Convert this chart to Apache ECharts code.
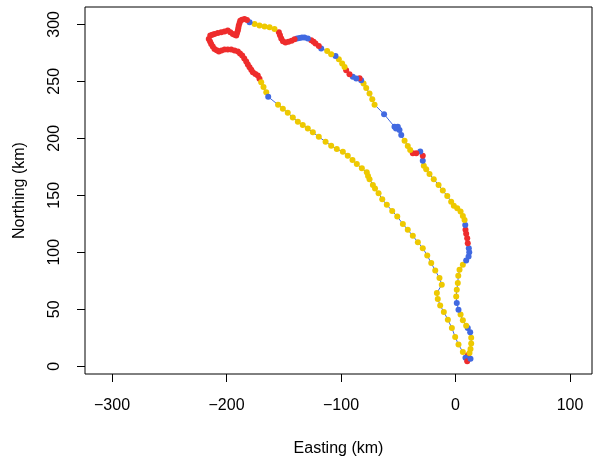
<!DOCTYPE html>
<html>
<head>
<meta charset="utf-8">
<script src="https://cdn.jsdelivr.net/npm/echarts@6/dist/echarts.min.js"></script>
<style>html,body{margin:0;padding:0;background:#fff}#c{width:593px;height:456px}</style>
</head>
<body>
<div id="c"></div>
<script>
// Track positions (km)
const easting = [
 10.7, 8.7, 10.2, 13.1,
 12.2, 13.1, 13.7, 13.7, 12.8, 10.7, 9.3, 6.4, 4.4, 2.6, 1.1, 0.6, 1.1, 2.0, 2.4, 3.5, 6.4,
 9.3, 11.4, 12.0, 11.6, 10.7, 10.2, 9.3, 8.7, 8.5, 7.9, 6.4, 4.4, 1.5, -1.5, -3.8, -7.2,
 -11.1, -14.8, -19.0, -22.7, -25.6, -27.7, -28.6, -28.6, -30.8, -34.3, -37.3, -39.6, -41.7, -44.5,
 -47.4, -48.9, -50.4, -52.0, -53.3, -62.4, -70.7, -72.7, -75.1, -78.0, -80.3, -82.4, -83.8, -86.7,
 -89.7, -92.6, -95.5, -96.9, -99.0, -101.9, -104.8, -108.6, -112.1, -117.3, -119.4, -122.3, -124.0,
 -126.0, -129.0, -131.9, -134.1, -136.2, -138.4, -140.6, -143.2, -145.9, -148.5, -150.7, -152.2,
 -153.3, -154.3, -158.1, -162.4, -166.8, -171.2, -175.5, -179.9,
 -182.1, -184.3, -186.5, -188.0, -188.6, -189.3, -189.7, -190.1, -190.8, -191.5, -193.0, -194.5,
 -196.7, -198.9, -201.7, -204.6, -207.6, -210.5, -212.4, -214.2, -215.5, -214.4, -213.4, -212.0,
 -210.5, -208.6, -206.7, -204.4, -201.7, -198.9, -195.9, -193.0, -190.1, -188.2, -186.3, -184.5,
 -182.8, -181.4, -179.9, -178.4, -177.0, -174.8, -172.7, -171.2,
 -169.7, -167.7, -165.3, -163.6,
 -155.0, -150.8, -146.5, -142.1, -137.7, -133.4, -129.0, -124.6, -119.4, -113.5, -108.6, -103.7,
 -98.4, -94.1, -90.0, -86.2, -81.8, -77.5, -76.4, -75.1, -72.2, -70.3, -67.2, -64.0, -60.0, -55.3,
 -50.9, -46.0, -41.7, -37.3, -32.9, -28.6, -24.7, -21.2, -17.7, -14.0, -12.0, -16.3, -15.5, -13.4,
 -10.2, -6.7, -3.2, -0.3, 2.6, 6.4
];
const northing = [
 9.6, 7.4, 4.4, 6.5,
 11.7, 15.2, 19.9, 24.9, 29.8, 33.6, 35.6, 40.3, 45.3, 49.6, 55.5, 61.3, 67.1, 73.0, 79.4, 84.7, 89.0,
 92.8, 96.3, 100.0, 103.6, 108.0, 112.4, 116.2, 119.7, 124.0, 128.4, 131.9, 135.7, 138.7, 140.9, 144.4, 149.4,
 154.1, 159.1, 164.1, 168.7, 172.8, 176.0, 180.3, 184.7, 188.4, 186.8, 186.8, 189.7, 193.2, 197.8,
 202.8, 207.2, 210.1, 208.5, 210.1, 221.2, 229.5, 234.3, 239.3, 244.2, 248.1, 251.0, 252.7, 252.5,
 253.9, 256.2, 259.7, 262.6, 265.6, 269.4, 272.3, 273.7, 276.6, 278.7, 281.0, 283.1, 284.7,
 286.0, 287.5, 288.4, 288.4, 288.0, 287.5, 286.9, 285.6, 284.7, 284.0, 285.1, 287.5,
 290.4, 293.0, 295.9, 297.4, 298.0, 298.9, 300.3, 301.8,
 303.9, 304.6, 304.1, 303.2, 301.1, 298.9, 296.7, 294.5, 292.3, 290.1, 290.8, 291.5,
 293.0, 294.5, 293.8, 293.0, 292.3, 291.5, 290.8, 290.1, 287.1, 284.9, 282.8, 280.6,
 278.4, 277.2, 276.1, 277.0, 277.9, 277.9, 277.9, 277.0, 276.1, 274.4, 272.6, 270.0,
 267.4, 264.8, 262.4, 260.2, 258.0, 256.5, 255.1, 252.3,
 249.2, 244.9, 240.5, 236.4,
 229.5, 226.0, 222.4, 218.3, 214.5, 211.6, 208.7, 205.2, 201.3, 197.0, 193.5, 190.6,
 188.2, 184.7, 180.9, 177.4, 173.7, 170.2, 166.9, 164.1, 159.1, 156.0, 151.8, 146.5, 141.6, 136.3,
 131.3, 124.9, 119.7, 114.4, 108.9, 103.6, 97.2, 90.5, 84.0, 77.4, 71.5, 64.3, 59.0, 53.4,
 47.6, 40.9, 33.6, 25.7, 19.0, 12.6
];
// Behaviour state of each fix: Y = yellow, R = red, B = blue
const state = [
 'R','B','R','B',
 'Y','Y','Y','Y','B','B','Y','Y','Y','B','B','Y','Y','Y','Y','Y','Y',
 'B','B','B','B','R','R','R','R','B','Y','Y','Y','Y','Y','Y','Y',
 'Y','Y','Y','Y','Y','Y','B','R','B','R','R','Y','Y','Y',
 'B','B','B','B','B','B','Y','Y','Y','Y','Y','B','R','B',
 'B','R','R','Y','Y','Y','B','Y','Y','B','R','R','R',
 'R','B','B','B','B','B','R','R','R','R','R','R',
 'R','R','Y','Y','Y','Y','Y','B',
 'R','R','R','R','R','R','R','R','R','R','R','R',
 'R','R','R','R','R','R','R','R','R','R','R','R',
 'R','R','R','R','R','R','R','R','R','R','R','R',
 'R','R','R','R','R','R','R','R',
 'Y','Y','Y','B',
 'Y','Y','Y','Y','Y','Y','Y','Y','Y','Y','Y','Y',
 'Y','Y','Y','Y','Y','Y','Y','Y','Y','Y','Y','Y','Y','Y',
 'Y','Y','Y','Y','Y','Y','Y','Y','Y','Y','Y','Y','Y','Y',
 'Y','Y','Y','Y','Y','Y'
];
const xTicks = [-300, -200, -100, 0, 100];
const yTicks = [0, 50, 100, 150, 200, 250, 300];
const stateColors = { Y: '#EEC900', R: '#EE2C2C', B: '#4169E1' };

const pts = easting.map((e, i) => [e, northing[i]]);
const fmt = v => String(v).replace('-', '\u2212');
const font = 'Liberation Sans, Arial, Helvetica, sans-serif';

const chart = echarts.init(document.getElementById('c'), null, { renderer: 'canvas' });
chart.setOption({
  animation: false,
  backgroundColor: '#fff',
  grid: { left: 85, right: 1, top: 7, bottom: 82, show: true, borderColor: '#000', borderWidth: 1, backgroundColor: 'transparent', outerBoundsMode: 'none', containLabel: false },
  xAxis: {
    type: 'value', min: -323.6, max: 119.2,
    name: 'Easting (km)', nameLocation: 'middle', nameGap: 67,
    nameTextStyle: { fontFamily: font, fontSize: 16, color: '#000' },
    axisLine: { show: false, onZero: false },
    splitLine: { show: false },
    axisTick: { show: true, inside: false, length: 8, lineStyle: { color: '#000', width: 1 }, customValues: xTicks },
    axisLabel: { customValues: xTicks, formatter: fmt, margin: 24, fontFamily: font, fontSize: 16, color: '#000' }
  },
  yAxis: {
    type: 'value', min: -6.8, max: 315.2,
    name: 'Northing (km)', nameLocation: 'middle', nameGap: 57, nameRotate: 90,
    nameTextStyle: { fontFamily: font, fontSize: 16, color: '#000' },
    axisLine: { show: false, onZero: false },
    splitLine: { show: false },
    axisTick: { show: true, inside: false, length: 8, lineStyle: { color: '#000', width: 1 }, customValues: yTicks },
    axisLabel: { customValues: yTicks, formatter: fmt, rotate: 90, margin: 22, fontFamily: font, fontSize: 16, color: '#000' }
  },
  series: [
    {
      type: 'line', data: pts, showSymbol: false, symbol: 'none',
      lineStyle: { color: '#4169E1', width: 1 }, z: 2
    },
    {
      type: 'scatter', data: pts, symbol: 'circle', symbolSize: 6,
      itemStyle: { color: p => stateColors[state[p.dataIndex]], opacity: 1 }, z: 3
    }
  ]
});
</script>
</body>
</html>
